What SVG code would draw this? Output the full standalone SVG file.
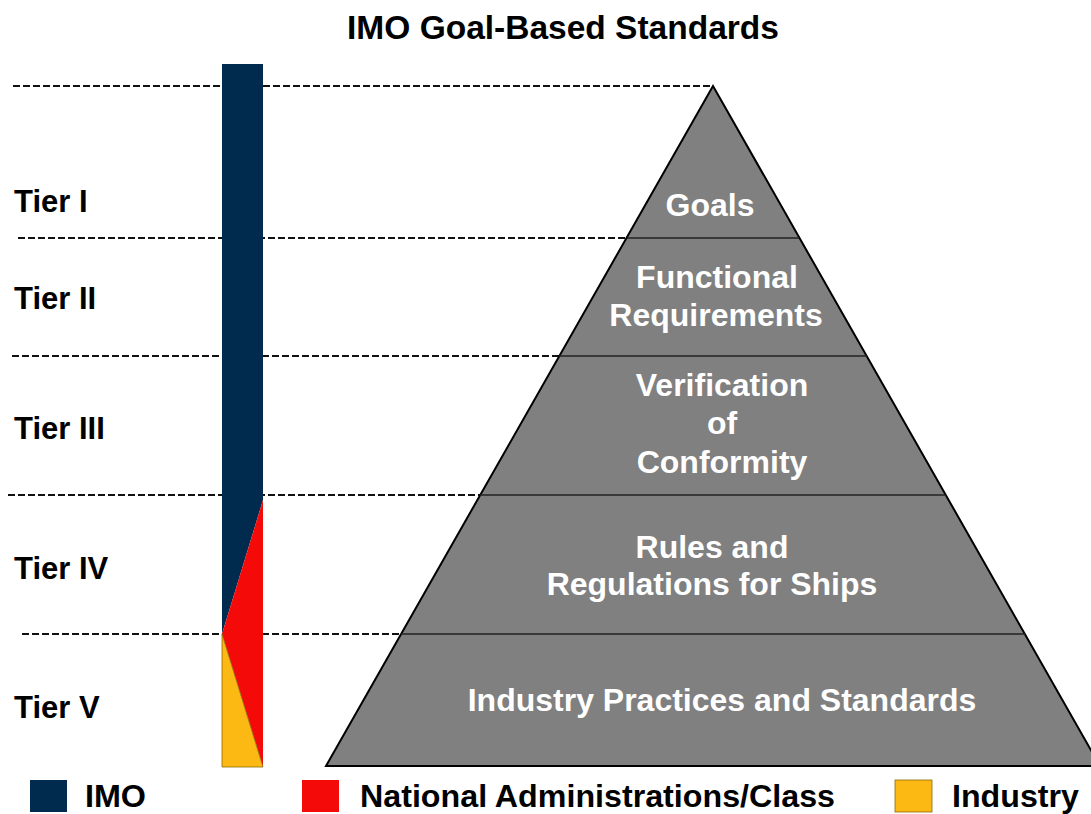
<svg xmlns="http://www.w3.org/2000/svg" width="1091" height="814" viewBox="0 0 1091 814">
<style>
.t{font-family:"Liberation Sans",Arial,sans-serif;font-weight:bold}
.title{font-size:33.5px;fill:#000}
.tier{font-size:31px;fill:#000}
.pl{font-size:32px;fill:#fff;text-anchor:middle}
.lg{font-size:31px;fill:#000}
.dash{stroke:#111;stroke-width:2.2;stroke-dasharray:7 3;fill:none}
.div{stroke:#222;stroke-width:1.5}
</style>
<rect width="1091" height="814" fill="#fff"/>
<text class="t title" x="563" y="39" text-anchor="middle">IMO Goal-Based Standards</text>
<g id="connectors">
<line class="dash" x1="13" y1="86" x2="713" y2="86"/>
<line class="dash" x1="18" y1="238" x2="627" y2="238"/>
<line class="dash" x1="12" y1="356" x2="559" y2="356"/>
<line class="dash" x1="8" y1="495" x2="480" y2="495"/>
<line class="dash" x1="22" y1="634" x2="401" y2="634"/>
</g>
<g id="bar">
<polygon points="222,64 263,64 263,500 222,634" fill="#002a4e"/>
<polygon points="263,500 222,634 263,767" fill="#f50a0a"/>
<polygon points="222,634 222,767 263,767" fill="#fdb913" stroke="#8a6a00" stroke-width="0.8"/>
</g>
<g id="pyramid">
<polygon points="713,86 326,766 1100,766" fill="#808080" stroke="#000" stroke-width="2"/>
<line class="div" x1="627" y1="238" x2="799" y2="238"/>
<line class="div" x1="559" y1="356" x2="867" y2="356"/>
<line class="div" x1="480" y1="495" x2="946" y2="495"/>
<line class="div" x1="401" y1="634" x2="1025" y2="634"/>
</g>
<g id="tiers">
<text class="t tier" x="14" y="212">Tier I</text>
<text class="t tier" x="14" y="309">Tier II</text>
<text class="t tier" x="14" y="439">Tier III</text>
<text class="t tier" x="14" y="579">Tier IV</text>
<text class="t tier" x="14" y="718">Tier V</text>
</g>
<g id="goals"><text class="t pl" x="710" y="216">Goals</text></g>
<g id="functional"><text class="t pl" x="717" y="288">Functional</text><text class="t pl" x="716" y="326">Requirements</text></g>
<g id="verification"><text class="t pl" x="722" y="396">Verification</text><text class="t pl" x="722" y="434">of</text><text class="t pl" x="722" y="473">Conformity</text></g>
<g id="rules"><text class="t pl" x="712" y="558">Rules and</text><text class="t pl" x="712" y="595">Regulations for Ships</text></g>
<g id="industry-practices"><text class="t pl" x="722" y="711">Industry Practices and Standards</text></g>
<g id="legend">
<rect x="30" y="780" width="37" height="32" fill="#002a4e"/>
<text class="t lg" x="85" y="807" textLength="61" lengthAdjust="spacingAndGlyphs">IMO</text>
<rect x="302" y="780" width="37" height="32" fill="#f50a0a"/>
<text class="t lg" x="360" y="807" textLength="475" lengthAdjust="spacingAndGlyphs">National Administrations/Class</text>
<rect x="895" y="780" width="37" height="32" fill="#fdb913" stroke="#8a6a00" stroke-width="0.8"/>
<text class="t lg" x="952" y="807" textLength="127" lengthAdjust="spacingAndGlyphs">Industry</text>
</g>
</svg>
